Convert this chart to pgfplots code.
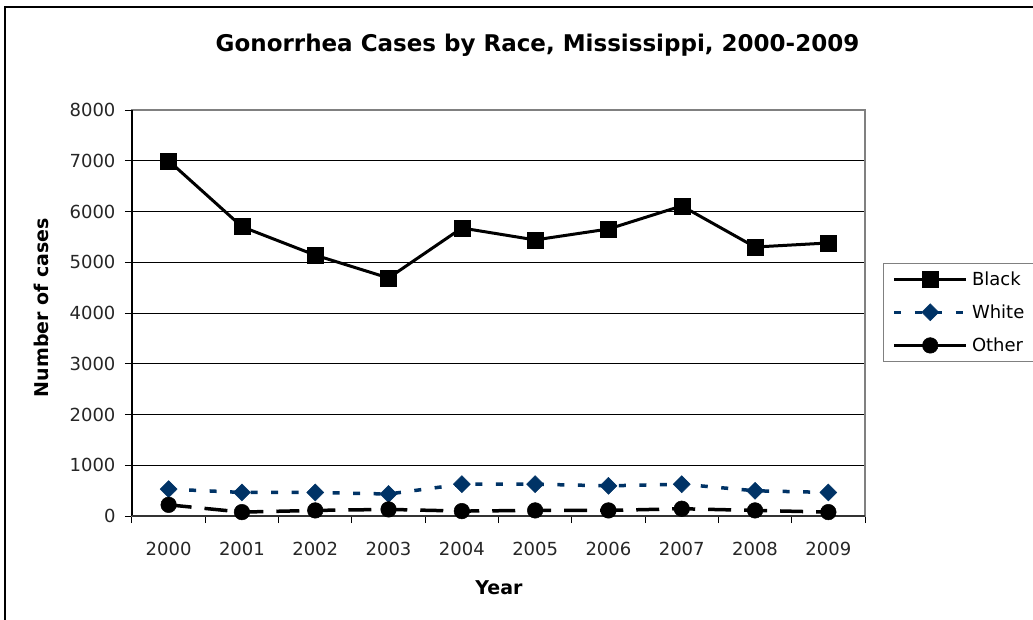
\documentclass[border=0pt]{standalone}
\usepackage{fontspec}
\setmainfont{DejaVu Sans}
\usepackage{pgfplots}
\pgfplotsset{compat=1.18}
\definecolor{navy}{RGB}{0,51,102}
\begin{document}
\begin{tikzpicture}[x=1pt,y=1pt]
\useasboundingbox (-132,-103) rectangle (901,516);
\draw[line width=1.5pt] (-127,-113) -- (-127,509) -- (911,509);
\node[anchor=base, font=\fontsize{23}{27}\selectfont\bfseries] at (405.5,464.3) {Gonorrhea Cases by Race, Mississippi, 2000-2009};
\begin{axis}[
  scale only axis, width=733pt, height=406pt,
  xmin=-0.5, xmax=9.5, ymin=0, ymax=8000,
  xtick={0,1,2,3,4,5,6,7,8,9},
  xticklabels={2000,2001,2002,2003,2004,2005,2006,2007,2008,2009},
  minor xtick={-0.5,0.5,1.5,2.5,3.5,4.5,5.5,6.5,7.5,8.5,9.5},
  ytick={0,1000,2000,3000,4000,5000,6000,7000,8000},
  major x tick style={draw=none},
  minor x tick style={black, line width=1pt},
  y tick style={black, line width=1pt},
  tick align=outside, major tick length=7pt, minor tick length=7pt,
  xtick pos=bottom, ytick pos=left,
  scaled y ticks=false,
  /pgf/number format/1000 sep={},
  /pgf/number format/assume math mode=true,
  ymajorgrids, grid style={black, line width=0.9pt},
  axis line style={draw=gray, line width=1.5pt},
  tick label style={font=\fontsize{18}{21}\selectfont, text=black!85},
  xticklabel style={anchor=base, yshift=-32pt},
  yticklabel style={anchor=east, xshift=-6pt},
  xlabel={Year}, ylabel={Number of cases},
  every axis x label/.style={at={(axis description cs:0.5007,-0.177)}, anchor=center, font=\fontsize{19}{22}\selectfont\bfseries},
  every axis y label/.style={at={(axis description cs:-0.1232,0.5135)}, rotate=90, anchor=center, font=\fontsize{19}{22}\selectfont\bfseries},
  legend style={at={(1.02456,0.62315)}, anchor=north west, draw=gray, line width=1pt, fill=white,
    font=\fontsize{18}{21}\selectfont, inner xsep=9pt, inner ysep=6pt, row sep=14pt,
    nodes={inner sep=2pt}},
  legend cell align=left,
  legend image code/.code={\draw[mark repeat=2,mark phase=2] plot coordinates {(0pt,0pt) (36pt,0pt) (72pt,0pt)}; \path (74pt,0pt);},
  clip=false,
]
\addplot[black, line width=3pt, mark=square*, mark size=8pt, mark options={solid, line width=0.5pt}]
  coordinates {(0,7000) (1,5700) (2,5140) (3,4690) (4,5675) (5,5440) (6,5655) (7,6110) (8,5300) (9,5380)};
\addlegendentry{\makebox[62pt][l]{Black}}
\addplot[navy, line width=3.5pt, dash pattern=on 7pt off 13.5pt, mark=square*, mark size=6pt, mark options={solid, rotate=45, line width=0.5pt}]
  coordinates {(0,530) (1,464) (2,464) (3,433) (4,627) (5,627) (6,594) (7,627) (8,497) (9,464)};
\addlegendentry{\makebox[62pt][l]{White}}
\addplot[black, line width=3.5pt, dash pattern=on 23pt off 13pt, mark=*, mark size=7.8pt, mark options={solid, line width=0.5pt}, legend image post style={solid}]
  coordinates {(0,220) (1,77) (2,110) (3,130) (4,97) (5,110) (6,110) (7,143) (8,110) (9,77)};
\addlegendentry{\makebox[62pt][l]{Other}}
\draw[black, line width=1.5pt] (rel axis cs:0,0) -- (rel axis cs:0,1);
\draw[black!80, line width=1.5pt] (rel axis cs:0,0) -- (rel axis cs:1,0);
\end{axis}
\end{tikzpicture}
\end{document}
